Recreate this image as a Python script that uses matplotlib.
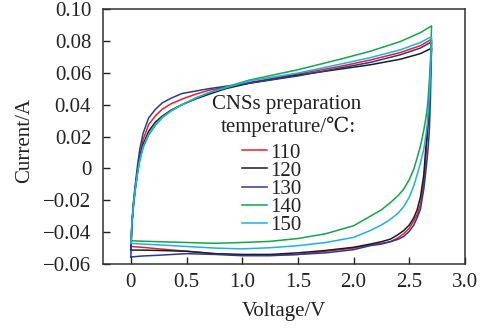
import matplotlib
matplotlib.use("Agg")
import matplotlib.pyplot as plt

plt.rcParams['font.family'] = ['Liberation Serif', 'DejaVu Serif']
plt.rcParams['axes.unicode_minus'] = True

# ---- data ----
labels = ["110", "120", "130", "140", "150"]
colors = ["#e8202a", "#1c1c1c", "#2a3a96", "#14a44a", "#1cb2e0"]

v_up = [0, 0.01, 0.025, 0.04, 0.06, 0.08, 0.11, 0.16, 0.22, 0.28, 0.36, 0.46,
        0.58, 0.7, 0.85, 1.07, 1.5, 1.88, 2.15, 2.42, 2.6, 2.7]
v_down = [2.7, 2.69, 2.68, 2.67, 2.66, 2.645, 2.63, 2.6, 2.57, 2.54, 2.5, 2.45,
          2.4, 2.33, 2.25, 2.15, 2.0, 1.75, 1.5, 1.25, 1.0, 0.75, 0.5, 0.25, 0.1, 0]

up_110 = [-0.049, -0.034, -0.021, -0.012, -0.001, 0.008, 0.018, 0.0275, 0.033, 0.037, 0.0405,
          0.0435, 0.0465, 0.049, 0.051, 0.054, 0.0592, 0.064, 0.068, 0.0727, 0.077, 0.081]
up_120 = [-0.0513, -0.035, -0.022, -0.013, -0.002, 0.006, 0.015, 0.0233, 0.029, 0.0327, 0.0365,
          0.040, 0.0435, 0.0465, 0.050, 0.0535, 0.0585, 0.0623, 0.065, 0.0685, 0.072, 0.0754]
up_130 = [-0.0556, -0.034, -0.020, -0.010, 0.002, 0.012, 0.022, 0.0317, 0.037, 0.041, 0.044,
          0.047, 0.0485, 0.050, 0.0515, 0.0535, 0.058, 0.063, 0.0665, 0.0713, 0.0755, 0.0794]
up_140 = [-0.0454, -0.034, -0.022, -0.013, -0.003, 0.005, 0.013, 0.021, 0.027, 0.0317, 0.036,
          0.040, 0.044, 0.0475, 0.051, 0.0555, 0.0619, 0.0685, 0.0735, 0.0796, 0.0852, 0.0894]
up_150 = [-0.047, -0.034, -0.022, -0.013, -0.003, 0.005, 0.0135, 0.0215, 0.0275, 0.032, 0.036,
          0.040, 0.044, 0.0475, 0.0505, 0.055, 0.0598, 0.0654, 0.0695, 0.0744, 0.079, 0.0827]

down_110 = [0.081, 0.062, 0.045, 0.030, 0.018, 0.004, -0.009, -0.0225, -0.029, -0.033, -0.0375,
            -0.041, -0.0435, -0.046, -0.047, -0.048, -0.050, -0.052, -0.054, -0.0545, -0.0545,
            -0.0535, -0.052, -0.0505, -0.0495, -0.049]
down_120 = [0.0754, 0.058, 0.045, 0.031, 0.022, 0.010, -0.004, -0.018, -0.026, -0.031, -0.0355,
            -0.039, -0.0415, -0.0444, -0.046, -0.0475, -0.0495, -0.0515, -0.053, -0.054, -0.054,
            -0.0535, -0.052, -0.0515, -0.0513, -0.0513]
down_130 = [0.0794, 0.045, 0.024, 0.014, 0.006, -0.004, -0.013, -0.0256, -0.031, -0.0356, -0.0395,
            -0.0427, -0.0445, -0.046, -0.0475, -0.0485, -0.051, -0.053, -0.054, -0.0548, -0.0548,
            -0.054, -0.0535, -0.0545, -0.055, -0.0556]
down_140 = [0.0894, 0.068, 0.055, 0.045, 0.037, 0.030, 0.024, 0.014, 0.0065, -0.0006, -0.007,
            -0.013, -0.017, -0.0215, -0.026, -0.030, -0.036, -0.041, -0.044, -0.0458, -0.0465,
            -0.047, -0.0465, -0.046, -0.0457, -0.0454]
down_150 = [0.0827, 0.060, 0.045, 0.035, 0.027, 0.019, 0.012, 0.0035, -0.004, -0.011, -0.018,
            -0.024, -0.028, -0.032, -0.0355, -0.039, -0.0433, -0.0465, -0.0485, -0.0498, -0.0505,
            -0.050, -0.049, -0.048, -0.0475, -0.047]

ups = [up_110, up_120, up_130, up_140, up_150]
downs = [down_110, down_120, down_130, down_140, down_150]

x_ticks = [0, 0.5, 1.0, 1.5, 2.0, 2.5, 3.0]
x_ticklabels = ["0", "0.5", "1.0", "1.5", "2.0", "2.5", "3.0"]
y_ticks = [-0.06, -0.04, -0.02, 0, 0.02, 0.04, 0.06, 0.08, 0.10]
y_ticklabels = ["\u22120.06", "\u22120.04", "\u22120.02", "0", "0.02", "0.04", "0.06", "0.08", "0.10"]

# ---- figure ----
W, H = 493, 329
fig = plt.figure(figsize=(W / 100, H / 100), dpi=100)
ax = fig.add_axes([103 / W, 1 - 264 / H, (465 - 103) / W, (264 - 9) / H])

handles = []
for lab, col, up, dn in zip(labels, colors, ups, downs):
    ln, = ax.plot(v_up + v_down, up + dn, color=col, lw=1.1, label=lab)
    handles.append(ln)

ax.set_xlim(-0.25, 3.0)
ax.set_ylim(-0.06, 0.10)
ax.set_xticks(x_ticks)
ax.set_xticklabels(x_ticklabels)
ax.set_yticks(y_ticks)
ax.set_yticklabels(y_ticklabels)
ax.tick_params(direction='in', length=5, width=1.0, labelsize=15, colors='#222222',
               top=False, right=False)
ax.tick_params(axis='y', pad=8.5)
ax.tick_params(axis='x', pad=6.5)
for s in ax.spines.values():
    s.set_linewidth(1.1)
    s.set_color('#333333')

ax.set_xlabel("Voltage/V", fontsize=15, color='#222222')
ax.set_ylabel("Current/A", fontsize=15, color='#222222')
ax.xaxis.set_label_coords(0.499, -0.15)
ax.yaxis.set_label_coords(-0.19, 0.486)

fig.text(287 / W, 1 - 105 / H, "CNSs preparation", fontsize=15, ha='center', va='center',
         color='#222222')
fig.text(288 / W, 1 - 127 / H, "temperature/\u2103:", fontsize=15, ha='center', va='center',
         color='#222222')

leg = ax.legend(handles=handles, loc='upper left', bbox_to_anchor=(242 / W, 1 - 143 / H),
                bbox_transform=fig.transFigure, frameon=False, fontsize=15,
                handlelength=1.2, handletextpad=0.15, labelspacing=-0.07,
                borderpad=0, borderaxespad=0)
for t in leg.get_texts():
    t.set_color('#222222')

fig.savefig("out.png", dpi=100)
